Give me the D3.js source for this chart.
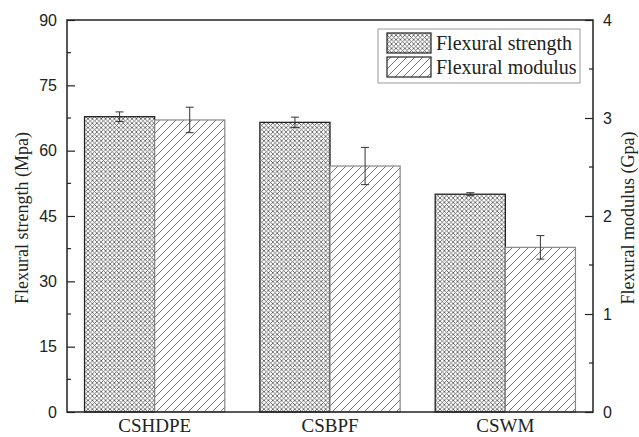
<!DOCTYPE html>
<html><head><meta charset="utf-8">
<script src="https://cdn.jsdelivr.net/npm/d3@7"></script>
<style>body{margin:0;background:#fff}</style>
</head><body>
<svg id="c" width="639" height="437"></svg>
<script>
const categories = ["CSHDPE", "CSBPF", "CSWM"];
const strength = [67.8, 66.5, 50.0];          // Mpa
const strengthErr = [1.1, 1.2, 0.35];
const modulus = [2.98, 2.51, 1.68];           // Gpa
const modulusErr = [0.13, 0.19, 0.12];
const leftTicks = [0, 15, 30, 45, 60, 75, 90];
const rightTicks = [0, 1, 2, 3, 4];
const seriesNames = ["Flexural strength", "Flexural modulus"];

const svg = d3.select("#c");
const L = 67, R = 593, T = 20, B = 412;

const defs = svg.append("defs");
const P = 4.4;
const ch = defs.append("pattern").attr("id", "cross").attr("patternUnits", "userSpaceOnUse")
  .attr("width", P).attr("height", P);
ch.append("rect").attr("width", P).attr("height", P).attr("fill", "#fff");
ch.append("path").attr("d", `M0,0L${P},${P}M0,${P}L${P},0`).attr("stroke", "#555").attr("stroke-width", 0.8);
const hp = defs.append("pattern").attr("id", "hatch").attr("patternUnits", "userSpaceOnUse")
  .attr("width", 8).attr("height", 8);
hp.append("rect").attr("width", 8).attr("height", 8).attr("fill", "#fff");
hp.append("path").attr("d", "M0,8L8,0M-2,2L2,-2M6,10L10,6").attr("stroke", "#666").attr("stroke-width", 0.9);

const x0 = d3.scaleBand().domain(categories).range([L, R]).paddingInner(0.2).paddingOuter(0.1);
const x1 = d3.scaleBand().domain([0, 1]).range([0, x0.bandwidth()]);
const yL = d3.scaleLinear().domain([0, 90]).range([B, T]);
const yR = d3.scaleLinear().domain([0, 4]).range([B, T]);

const g = svg.append("g");
categories.forEach((c, i) => {
  g.append("rect").attr("x", x0(c) + x1(0)).attr("width", x1.bandwidth())
    .attr("y", yL(strength[i])).attr("height", B - yL(strength[i]))
    .attr("fill", "url(#cross)").attr("stroke", "#222").attr("stroke-width", 1.3);
  g.append("rect").attr("x", x0(c) + x1(1)).attr("width", x1.bandwidth())
    .attr("y", yR(modulus[i])).attr("height", B - yR(modulus[i]))
    .attr("fill", "url(#hatch)").attr("stroke", "#888").attr("stroke-width", 1.2);
});
function errBar(cx, yTop, yBot) {
  g.append("line").attr("x1", cx).attr("x2", cx).attr("y1", yTop).attr("y2", yBot).attr("stroke", "#333").attr("stroke-width", 1);
  [yTop, yBot].forEach(yy => g.append("line").attr("x1", cx - 4).attr("x2", cx + 4).attr("y1", yy).attr("y2", yy).attr("stroke", "#333").attr("stroke-width", 1));
}
categories.forEach((c, i) => {
  const cs = x0(c) + x1(0) + x1.bandwidth() / 2;
  errBar(cs, yL(strength[i] + strengthErr[i]), yL(strength[i] - strengthErr[i]));
  const cm = x0(c) + x1(1) + x1.bandwidth() / 2;
  errBar(cm, yR(modulus[i] + modulusErr[i]), yR(modulus[i] - modulusErr[i]));
});

svg.append("rect").attr("x", L).attr("y", T).attr("width", R - L).attr("height", B - T)
  .attr("fill", "none").attr("stroke", "#222").attr("stroke-width", 1.5);

const axL = d3.axisLeft(yL).tickValues(leftTicks).tickSize(-8).tickFormat(d3.format("d"));
const gL = svg.append("g").attr("transform", `translate(${L},0)`).call(axL);
gL.select(".domain").remove();
gL.selectAll("line").attr("stroke", "#222").attr("stroke-width", 1.2);
gL.selectAll("text").attr("font-family", "Liberation Sans, Arial, sans-serif").attr("font-size", 16).attr("fill", "#222").attr("x", -10);
const minorL = d3.range(7.5, 90, 15);
svg.append("g").selectAll("line").data(minorL).join("line")
  .attr("x1", L).attr("x2", L + 4).attr("y1", d => yL(d)).attr("y2", d => yL(d)).attr("stroke", "#222").attr("stroke-width", 1.2);

const axR = d3.axisRight(yR).tickValues(rightTicks).tickSize(-8).tickFormat(d3.format("d"));
const gR = svg.append("g").attr("transform", `translate(${R},0)`).call(axR);
gR.select(".domain").remove();
gR.selectAll("line").attr("stroke", "#222").attr("stroke-width", 1.2);
gR.selectAll("text").attr("font-family", "Liberation Sans, Arial, sans-serif").attr("font-size", 16).attr("fill", "#222").attr("x", 10);
const minorR = d3.range(0.5, 4, 1);
svg.append("g").selectAll("line").data(minorR).join("line")
  .attr("x1", R - 4).attr("x2", R).attr("y1", d => yR(d)).attr("y2", d => yR(d)).attr("stroke", "#222").attr("stroke-width", 1.2);

const axB = d3.axisBottom(x0).tickSize(0).tickPadding(6.5);
const gB = svg.append("g").attr("transform", `translate(0,${B})`).call(axB);
gB.select(".domain").remove();
gB.selectAll("text").attr("font-family", "Liberation Serif, Times New Roman, serif").attr("font-size", 19).attr("fill", "#222");

svg.append("text").attr("transform", `translate(22,${(T + B) / 2 + 2}) rotate(-90)`).attr("text-anchor", "middle")
  .attr("dominant-baseline", "central")
  .attr("font-family", "Liberation Serif, Times New Roman, serif").attr("font-size", 18).attr("fill", "#222")
  .text("Flexural strength (Mpa)");
svg.append("text").attr("transform", `translate(628,${(T + B) / 2 + 2}) rotate(-90)`).attr("text-anchor", "middle")
  .attr("dominant-baseline", "central")
  .attr("font-family", "Liberation Serif, Times New Roman, serif").attr("font-size", 18).attr("fill", "#222")
  .text("Flexural modulus (Gpa)");

const lg = svg.append("g");
lg.append("rect").attr("x", 378).attr("y", 29).attr("width", 202).attr("height", 54)
  .attr("fill", "#fff").attr("stroke", "#999").attr("stroke-width", 1);
const fills = ["url(#cross)", "url(#hatch)"];
seriesNames.forEach((n, i) => {
  lg.append("rect").attr("x", 387).attr("y", 33 + i * 24).attr("width", 44).attr("height", 20)
    .attr("fill", fills[i]).attr("stroke", "#222").attr("stroke-width", 1.2);
  lg.append("text").attr("x", 436).attr("y", 50 + i * 24)
    .attr("font-family", "Liberation Serif, Times New Roman, serif").attr("font-size", 20).attr("fill", "#222").text(n);
});
</script>
</body></html>
